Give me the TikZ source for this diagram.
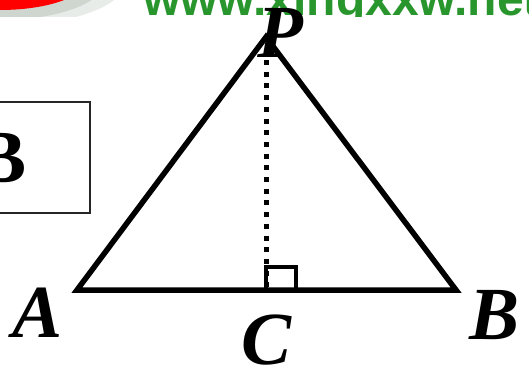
\documentclass[tikz,border=0pt]{standalone}
\usepackage{fontspec}
\setmainfont{Liberation Serif}
\newfontfamily\wmfont{Liberation Sans}
\definecolor{wmgreen}{RGB}{40,150,45}
\definecolor{wmshadow}{RGB}{190,200,192}
\begin{document}
\begin{tikzpicture}[x=1pt,y=-1pt,
  lbl/.style={font=\fontsize{75}{75}\selectfont\bfseries\itshape, inner sep=0pt, anchor=base},
  edge/.style={line width=5.5pt, line join=miter},
  perp/.style={line width=5pt, dash pattern=on 5pt off 6.7pt},
  rmark/.style={line width=4.2pt, line join=miter}]
\useasboundingbox (0,0) rectangle (529,367);
% watermark header
\begin{scope}
  \clip (0,0) rectangle (529,16.5);
  \fill[wmshadow, opacity=0.35] (0,-18) ellipse [x radius=125, y radius=44];
  \fill[wmshadow, opacity=0.6] (0,-19) ellipse [x radius=105, y radius=39];
  \fill[red] (0,-20) ellipse [x radius=86, y radius=30];
  \node[font=\wmfont\bfseries\fontsize{48}{48}\selectfont, text=wmgreen, anchor=base west, inner sep=0pt] (wm) at (143,15) {www.xingxxw.net};
\end{scope}
% box with B
\node[draw=black!85, line width=1.5pt, minimum width=95pt, minimum height=111pt, inner sep=0pt] (box) at (42.5,157.5) {};
\node[font=\fontsize{75}{75}\selectfont\bfseries, anchor=base, inner sep=0pt] (boxB) at (1.5,182) {B};
% triangle
\coordinate (A) at (77,290);
\coordinate (B) at (456,290);
\coordinate (P) at (266,37);
\coordinate (C) at (266,290);
\coordinate (D) at (266,60);
\draw[edge] (A) -- (P) -- (B) -- cycle;
\draw[perp] (D) -- (C);
\draw[rmark] (C) -- ([shift={(0,-23)}]C) -- ([shift={(30,-23)}]C) -- ([shift={(30,0)}]C);
% labels
\node[lbl] (lA) at (38,337) {A};
\node[lbl] (lB) at (495,339) {B};
\node[lbl] (lC) at (267,364) {C};
\node[lbl] (lP) at (280,57) {P};
\end{tikzpicture}
\end{document}
